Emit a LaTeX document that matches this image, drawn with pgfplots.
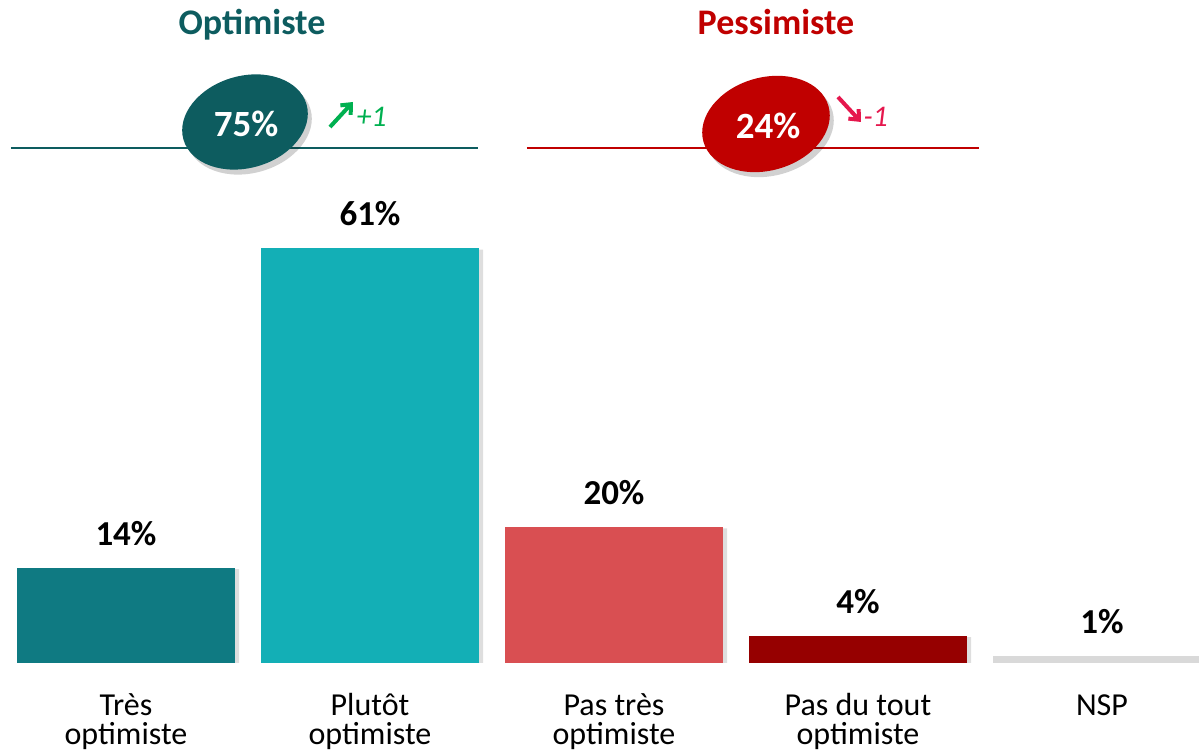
\documentclass[border=0pt]{standalone}
\usepackage{pgfplots}
\pgfplotsset{compat=1.18}
\usepackage{fontspec}
\setmainfont{Carlito}
\usetikzlibrary{arrows.meta,shapes.geometric}
\definecolor{c1}{HTML}{0F7A82}
\definecolor{c2}{HTML}{13AFB6}
\definecolor{c3}{HTML}{D94F52}
\definecolor{c4}{HTML}{960000}
\definecolor{c5}{HTML}{D9D9D9}
\definecolor{tealdark}{HTML}{0D5C5F}
\definecolor{redd}{HTML}{C00000}
\definecolor{upg}{HTML}{00B050}
\definecolor{downr}{HTML}{E5174D}
\newcommand{\px}[2]{({#1pt},{752pt-#2pt})}
\begin{document}
\begin{tikzpicture}
\begin{axis}[
  at={(0pt,0pt)}, anchor=south west,
  scale only axis, width=1199pt, height=752pt,
  xmin=-0.516393, xmax=4.397541, ymin=-13.0882, ymax=97.5,
  hide axis,
  /pgf/number format/assume math mode=true,
  ybar, bar width=218pt, bar shift=0pt,
  nodes near coords={\pgfmathprintnumber{\pgfplotspointmeta}\%},
  every node near coord/.append style={font=\fontsize{35}{35}\selectfont\bfseries, anchor=south, inner sep=0pt, yshift=22pt, text=black},
]
% shadows
\addplot[fill=black, fill opacity=0.13, draw=none, bar shift=4pt, nodes near coords={}] coordinates {(0,13.8) (1,60.8) (2,19.8) (3,3.8) (4,0.8)};
\addplot[fill=c1, draw=none] coordinates {(0,14)};
\addplot[fill=c2, draw=none] coordinates {(1,61)};
\addplot[fill=c3, draw=none] coordinates {(2,20)};
\addplot[fill=c4, draw=none] coordinates {(3,4)};
\addplot[fill=c5, draw=none] coordinates {(4,1)};
\end{axis}
\path (0,0) rectangle (1199pt,752pt);

% category labels
\tikzset{cat/.style={font=\fontsize{32}{32}\selectfont, anchor=base, text=black}}
\node[cat] at \px{126}{716} {Très};
\node[cat] at \px{126}{745} {optimiste};
\node[cat] at \px{370}{716} {Plutôt};
\node[cat] at \px{370}{745} {optimiste};
\node[cat] at \px{614}{716} {Pas très};
\node[cat] at \px{614}{745} {optimiste};
\node[cat] at \px{858}{716} {Pas du tout};
\node[cat] at \px{858}{745} {optimiste};
\node[cat] at \px{1102}{716} {NSP};

% titles
\node[font=\fontsize{36}{36}\selectfont\bfseries, text=tealdark, anchor=base] at \px{252}{35} {Optimiste};
\node[font=\fontsize{36}{36}\selectfont\bfseries, text=redd, anchor=base] at \px{776}{35} {Pessimiste};

% lines
\draw[tealdark, line width=2pt] \px{11}{148} -- \px{478}{148};
\draw[redd, line width=2pt] \px{527}{148} -- \px{979}{148};

% ellipses
\node[ellipse, fill=black, fill opacity=0.18, minimum width=128pt, minimum height=92pt, inner sep=0pt, rotate=16] at \px{249}{127} {};
\node[ellipse, fill=tealdark, minimum width=128pt, minimum height=92pt, inner sep=0pt, rotate=16] at \px{245}{122} {};
\node[font=\fontsize{37}{37}\selectfont\bfseries, text=white] at \px{246}{124} {75\%};
\node[ellipse, fill=black, fill opacity=0.18, minimum width=130pt, minimum height=93pt, inner sep=0pt, rotate=16] at \px{770}{129} {};
\node[ellipse, fill=redd, minimum width=130pt, minimum height=93pt, inner sep=0pt, rotate=16] at \px{766}{124} {};
\node[font=\fontsize{37}{37}\selectfont\bfseries, text=white] at \px{768}{126} {24\%};

% trend arrows
\draw[upg, line width=4pt, -{Straight Barb[length=8pt,width=14pt]}] \px{330}{127} -- \px{353}{102};
\node[font=\fontsize{30}{30}\selectfont\itshape, text=upg, anchor=west] at \px{353}{117} {+1};
\draw[downr, line width=4pt, -{Straight Barb[length=8pt,width=14pt]}] \px{838}{97} -- \px{861}{122};
\node[font=\fontsize{30}{30}\selectfont\itshape, text=downr, anchor=west] at \px{860}{117} {-1};
\end{tikzpicture}
\end{document}
